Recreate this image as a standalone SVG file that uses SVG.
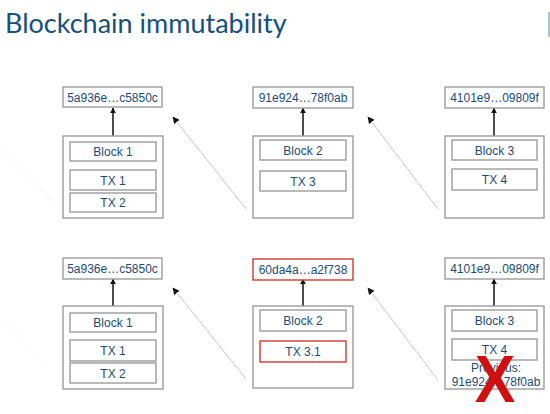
<svg xmlns="http://www.w3.org/2000/svg" width="550" height="414" viewBox="0 0 550 414">
<style>
.t{font-family:"Liberation Sans",Arial,sans-serif;font-size:12px;fill:#1d4b72;text-anchor:middle}
.title{font-family:Lato,"Liberation Sans",sans-serif;font-size:27px;fill:#16507c}
.box{fill:#fff;stroke:#9c9c9c;stroke-width:1.4}
.red{fill:#fff;stroke:#d23a30;stroke-width:1.4}
.up{stroke:#111;stroke-width:1.5;fill:none}
.diag{stroke:#b8b8b8;stroke-width:0.8;fill:none}
.faint{stroke:#f0f0f0;stroke-width:1;stroke-dasharray:2 2;fill:none}
</style>
<defs>
<marker id="ah" viewBox="0 0 10 10" refX="9" refY="5" markerWidth="6" markerHeight="6" orient="auto" markerUnits="userSpaceOnUse"><path d="M0,0 L10,5 L0,10 z" fill="#111"/></marker>
<marker id="ah2" viewBox="0 0 10 10" refX="9" refY="5" markerWidth="7" markerHeight="7" orient="auto" markerUnits="userSpaceOnUse"><path d="M0,0 L10,5 L0,10 z" fill="#111"/></marker>
</defs>
<rect width="550" height="414" fill="#fff"/>
<text class="title" x="5" y="33">Blockchain immutability</text>
<line x1="549" y1="12" x2="549" y2="37" stroke="#6f9cb8" stroke-width="1.2"/>

<g id="connectors">
<line class="faint" x1="2" y1="150" x2="55" y2="205"/>
<line class="faint" x1="2" y1="320" x2="45" y2="367"/>
<line class="up" x1="113" y1="136" x2="113" y2="108" marker-end="url(#ah)"/>
<line class="up" x1="303" y1="136" x2="303" y2="108" marker-end="url(#ah)"/>
<line class="up" x1="494" y1="136" x2="494" y2="108" marker-end="url(#ah)"/>
<line class="diag" x1="246" y1="209" x2="173" y2="117" marker-end="url(#ah2)"/>
<line class="diag" x1="438" y1="209" x2="368" y2="117" marker-end="url(#ah2)"/>
<line class="up" x1="113" y1="306" x2="113" y2="279" marker-end="url(#ah)"/>
<line class="up" x1="303" y1="306" x2="303" y2="279" marker-end="url(#ah)"/>
<line class="up" x1="494" y1="306" x2="494" y2="279" marker-end="url(#ah)"/>
<line class="diag" x1="246" y1="379" x2="173" y2="288" marker-end="url(#ah2)"/>
<line class="diag" x1="438" y1="380" x2="368" y2="288" marker-end="url(#ah2)"/>
</g>

<g id="hash1-top"><rect class="box" x="63" y="87" width="99" height="20"/><text class="t" x="112.5" y="101.5">5a936e…c5850c</text></g>
<g id="block1-top">
<rect class="box" x="63" y="136" width="100" height="82"/>
<rect class="box" x="70" y="142" width="86" height="19"/><text class="t" x="113" y="156">Block 1</text>
<rect class="box" x="70" y="170" width="86" height="20"/><text class="t" x="113" y="184.5">TX 1</text>
<rect class="box" x="70" y="193" width="86" height="19"/><text class="t" x="113" y="207">TX 2</text>
</g>

<g id="hash2-top"><rect class="box" x="253" y="87" width="100" height="21"/><text class="t" x="303" y="102">91e924…78f0ab</text></g>
<g id="block2-top">
<rect class="box" x="253" y="136" width="100" height="82"/>
<rect class="box" x="260" y="140" width="86" height="20"/><text class="t" x="303" y="154.5">Block 2</text>
<rect class="box" x="260" y="171" width="86" height="20"/><text class="t" x="303" y="185.5">TX 3</text>
</g>

<g id="hash3-top"><rect class="box" x="445" y="87" width="99" height="21"/><text class="t" x="494.5" y="102">4101e9…09809f</text></g>
<g id="block3-top">
<rect class="box" x="445" y="136" width="99" height="82"/>
<rect class="box" x="452" y="140" width="85" height="20"/><text class="t" x="494.5" y="154.5">Block 3</text>
<rect class="box" x="452" y="169" width="85" height="21"/><text class="t" x="494.5" y="184">TX 4</text>
</g>

<g id="hash1-bottom"><rect class="box" x="63" y="258" width="99" height="21"/><text class="t" x="112.5" y="273">5a936e…c5850c</text></g>
<g id="block1-bottom">
<rect class="box" x="63" y="306" width="100" height="83"/>
<rect class="box" x="70" y="313" width="86" height="19"/><text class="t" x="113" y="327">Block 1</text>
<rect class="box" x="70" y="340" width="86" height="21"/><text class="t" x="113" y="355">TX 1</text>
<rect class="box" x="70" y="363" width="86" height="20"/><text class="t" x="113" y="377.5">TX 2</text>
</g>

<g id="hash2-bottom"><rect class="red" x="253" y="259" width="100" height="21"/><text class="t" x="303" y="274">60da4a…a2f738</text></g>
<g id="block2-bottom">
<rect class="box" x="253" y="306" width="100" height="82"/>
<rect class="box" x="260" y="310" width="86" height="21"/><text class="t" x="303" y="325">Block 2</text>
<rect class="red" x="260" y="341" width="86" height="21"/><text class="t" x="303" y="356">TX 3.1</text>
</g>

<g id="hash3-bottom"><rect class="box" x="445" y="258" width="99" height="21"/><text class="t" x="494.5" y="273">4101e9…09809f</text></g>
<g id="block3-bottom">
<rect class="box" x="445" y="306" width="99" height="83"/>
<rect class="box" x="452" y="339" width="85" height="21"/><text class="t" x="494.5" y="354">TX 4</text>
<rect class="box" x="452" y="310" width="85" height="21"/><text class="t" x="494.5" y="325">Block 3</text>
<text class="t" x="496" y="372">Previous:</text>
<text class="t" x="496" y="386">91e924…78f0ab</text>
<text x="0" y="0" transform="translate(495 402) scale(0.92 1)" font-family="Liberation Sans,Arial,sans-serif" font-weight="bold" font-size="66" fill="#d01010" text-anchor="middle">X</text>
</g>
</svg>
